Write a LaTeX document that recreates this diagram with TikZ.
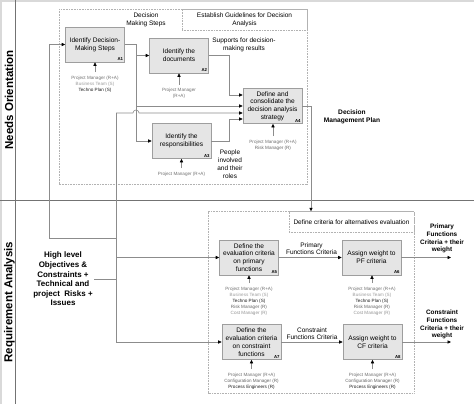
\documentclass[tikz,border=0pt]{standalone}
\usepackage{fontspec}
\setmainfont{Liberation Sans}
\usetikzlibrary{arrows.meta,calc}
\definecolor{cpm}{gray}{0.45}
\definecolor{cbt}{gray}{0.62}
\definecolor{ctp}{gray}{0.12}
\definecolor{crm}{gray}{0.4}
\definecolor{ccm}{gray}{0.58}
\tikzset{
  proc/.style={draw=black!38, fill=black!10, line width=0.6pt, minimum width=59pt,
    minimum height=35pt, inner sep=1pt, align=center, font=\fontsize{6.6}{7.8}\selectfont},
  idx/.style={font=\bfseries\fontsize{4.3}{5}\selectfont, inner sep=1.5pt, anchor=south east},
  res/.style={align=center, font=\fontsize{4.6}{6}\selectfont, inner sep=0.5pt},
  conn/.style={draw=black!45, line width=0.6pt},
  arr/.style={conn, -{Triangle[length=3.5pt,width=3.2pt,color=black]}},
  resarr/.style={arr, shorten <=3pt},
  dotbox/.style={draw=black!30, dash pattern=on 0.8pt off 0.8pt, line width=0.5pt},
  note/.style={align=center, font=\fontsize{6.5}{7.8}\selectfont, inner sep=0pt},
  bnote/.style={align=center, font=\bfseries\fontsize{6.4}{7.8}\selectfont, inner sep=0pt},
  lane/.style={rotate=90, font=\bfseries\fontsize{11.5}{13}\selectfont, inner sep=0pt},
}
\begin{document}
\begin{tikzpicture}[x=1pt,y=-1pt]
\useasboundingbox (0,0) rectangle (474,404);
\fill[white] (0,0) rectangle (474,404);
% frame and lanes
\fill[black!15] (0,0) rectangle (474,2.5);
\fill[black!15] (0,0) rectangle (2,404);
\draw[black!55, line width=0.8pt] (15,0) -- (15,404);
\draw[black!55, line width=0.8pt] (0,200) -- (474,200);
\node[lane] (lane1) at (9,100) {Needs Orientation};
\node[lane] (lane2) at (9.5,302) {Requirement Analysis};

% group containers
\draw[dotbox] (59,9) rectangle (307,184);
\draw[dotbox] (208,211.5) rectangle (414,393);
\node[dotbox, minimum width=125pt, minimum height=21pt, inner sep=0pt, align=center,
  font=\fontsize{6.5}{7.8}\selectfont] (estab) at (244.5,19.5)
  {Establish Guidelines for Decision\\Analysis};
\node[note] (dms) at (146,20) {Decision\\Making Steps};
\node[dotbox, minimum width=125pt, minimum height=20.5pt, inner sep=0pt,
  font=\fontsize{6.5}{7.8}\selectfont] (dc) at (351.5,221.75)
  {Define criteria for alternatives evaluation};

% process boxes
\node[proc] (a1) at (95,44.5) {Identify Decision-\\Making Steps};
\node[proc] (a2) at (179,55.5) {Identify the\\documents};
\node[proc] (a3) at (181.5,141) {Identify the\\responsibilities};
\node[proc] (a4) at (272.5,106) {Define and\\consolidate the\\decision analysis\\strategy};
\node[proc] (a5) at (249,257.5) {Define the\\evaluation criteria\\on primary\\functions};
\node[proc] (a6) at (371.5,257.5) {Assign weight to\\PF criteria};
\node[proc] (a7) at (251.5,342) {Define the\\evaluation criteria\\on constraint\\functions};
\node[proc] (a8) at (372.5,342) {Assign weight to\\CF criteria};
\foreach \n/\t in {a1/A1,a2/A2,a3/A3,a4/A4,a5/A5,a6/A6,a7/A7,a8/A8}
  \node[idx] (\n id) at (\n.south east) {\t};

% resources
\node[res] (r1) at (95,84) {\textcolor{cpm}{Project Manager (R+A)}\\\textcolor{cbt}{Business Team (S)}\\\textcolor{ctp}{Techno Plan (S)}};
\node[res] (r2) at (179,93.5) {\textcolor{cpm}{Project Manager}\\\textcolor{cpm}{(R+A)}};
\node[res] (r3) at (181.5,174) {\textcolor{cpm}{Project Manager (R+A)}};
\node[res] (r4) at (273,145) {\textcolor{cpm}{Project Manager (R+A)}\\\textcolor{crm}{Risk Manager (R)}};
\node[res] (r5) at (249,301) {\textcolor{cpm}{Project Manager (R+A)}\\\textcolor{cbt}{Business Team (S)}\\\textcolor{ctp}{Techno Plan (S)}\\\textcolor{crm}{Risk Manager (R)}\\\textcolor{ccm}{Cost Manager (R)}};
\node[res] (r6) at (372,301) {\textcolor{cpm}{Project Manager (R+A)}\\\textcolor{cbt}{Business Team (S)}\\\textcolor{ctp}{Techno Plan (S)}\\\textcolor{crm}{Risk Manager (R)}\\\textcolor{ccm}{Cost Manager (R)}};
\node[res] (r7) at (251.5,381) {\textcolor{cpm}{Project Manager (R+A)}\\\textcolor{crm}{Configuration Manager (R)}\\\textcolor{ctp}{Process Engineers (R)}};
\node[res] (r8) at (372.5,381) {\textcolor{cpm}{Project Manager (R+A)}\\\textcolor{crm}{Configuration Manager (R)}\\\textcolor{ctp}{Process Engineers (R)}};
\foreach \r/\b in {r1/a1,r2/a2,r3/a3,r4/a4,r5/a5,r6/a6,r7/a7,r8/a8}
  \draw[resarr] (\r.north) -- (\r.north |- \b.south);

% free texts
\node[note] (sup) at (244,45) {Supports for decision-\\making results};
\node[note] (ppl) at (230,164) {People\\involved\\and their\\roles};
\node[bnote, font=\bfseries\fontsize{6.6}{8}\selectfont] (dmp) at (352,117) {Decision\\Management Plan};
\node[note, font=\fontsize{6.5}{7}\selectfont] (pfc) at (311.5,248.5) {Primary\\Functions Criteria};
\node[note, font=\fontsize{6.5}{7}\selectfont] (cfc) at (312,333.5) {Constraint\\Functions Criteria};
\node[bnote] (opf) at (442,238.5) {Primary\\Functions\\Criteria + their\\weight};
\node[bnote] (ocf) at (442,324.5) {Constraint\\Functions\\Criteria + their\\weight};
\node[align=center, font=\bfseries\fontsize{8}{9.6}\selectfont, inner sep=1.5pt] (hl) at (63,279)
  {High level\\Objectives \&\\Constraints +\\Technical and\\project~ Risks +\\Issues};

% helper coordinates
\coordinate (s1) at (136,0);
\coordinate (s2) at (229,0);
\coordinate (s3) at (311,0);
\coordinate (busT) at (116,113);
\coordinate (lb) at (49,238);
\coordinate (a4p1) at ($(a4.west)+(0,-11)$);
\coordinate (a4p2) at (a4.west);
\coordinate (a4p3) at ($(a4.west)+(0,7)$);
\coordinate (a4p4) at ($(a4.west)+(0,13)$);
\coordinate (o1) at (451,257.5);
\coordinate (o2) at (451,342);

% connectors: inputs
\draw[conn] (busT) -- (busT |- a7.west);
\draw[conn] (hl.east) -- (hl.east -| busT);
\draw[arr] (busT |- a5.west) -- (a5.west);
\draw[arr] (busT |- a7.west) -- (a7.west);
\draw[arr] (busT |- lb) -- (lb) -- (lb |- a1.west) -- (a1.west);
\draw[arr] (busT) -- ($(s1 |- busT)+(-3,0)$) arc[start angle=180,end angle=0,radius=3pt] -- (a4p3);

% top flow
\draw[arr] (a1.east) -- (a1.east -| s1) -- (s1 |- a3.west) -- (a3.west);
\draw[arr] (s1 |- a2.west) -- (a2.west);
\draw[arr] (s1 |- a4p2) -- (a4p2);
\draw[arr] (a2.east) -- (a2.east -| s2) -- (s2 |- a4p1) -- (a4p1);
\draw[arr] (a3.east) -- (a3.east -| s2) -- (s2 |- a4p4) -- (a4p4);
\draw[arr] (a4.east) -- (a4.east -| s3) -- (s3 |- dc.north);

% bottom flow
\draw[arr] (a5.east) -- (a6.west);
\draw[arr] (a6.east) -- (o1);
\draw[arr] (a7.east) -- (a8.west);
\draw[arr] (a8.east) -- (o2);
\end{tikzpicture}
\end{document}
